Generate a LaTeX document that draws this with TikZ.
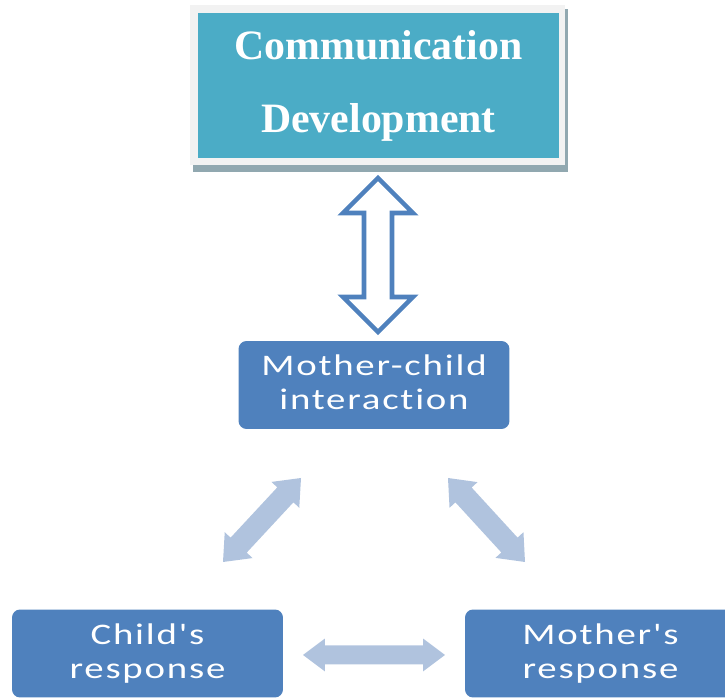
\documentclass[tikz,border=0pt]{standalone}
\usepackage{fontspec}
\usetikzlibrary{calc}

\newfontfamily\titlefont{Liberation Serif}
\newfontfamily\boxfont[LetterSpace=6,FakeStretch=1.3,Ligatures=NoCommon]{Carlito}

\definecolor{tealbox}{RGB}{75,172,198}
\definecolor{bluebox}{RGB}{79,129,189}
\definecolor{lightarrow}{RGB}{176,195,222}
\definecolor{framegray}{RGB}{242,242,242}
\definecolor{shadowgray}{RGB}{145,168,176}

\tikzset{
	stagebox/.style={rectangle,rounded corners=0.16cm,fill=bluebox,text=white,
		align=center,text depth=0.1cm,minimum width=5.42cm,minimum height=1.76cm,
		font=\boxfont\fontsize{17}{19.5}\selectfont},
	titlebox/.style={rectangle,fill=tealbox,text=white,align=center,
		minimum width=7.22cm,minimum height=2.9cm,
		font=\titlefont\bfseries\fontsize{23.8}{41.4}\selectfont},
	hollow/.style={draw=bluebox,fill=white,line width=2.6pt,line join=miter},
	soft/.style={fill=lightarrow}
}

% block arrow with two heads: style, from, to, half shaft, half head, head length
\newcommand{\dblarrow}[6]{%
	\coordinate (ba-a) at ($(#2)!#6!(#3)$);
	\coordinate (ba-b) at ($(#3)!#6!(#2)$);
	\path[#1] (#2) -- ($(ba-a)!#5!90:(#3)$) -- ($(ba-a)!#4!90:(#3)$)
		-- ($(ba-b)!#4!-90:(#2)$) -- ($(ba-b)!#5!-90:(#2)$) -- (#3)
		-- ($(ba-b)!#5!90:(#2)$) -- ($(ba-b)!#4!90:(#2)$)
		-- ($(ba-a)!#4!-90:(#3)$) -- ($(ba-a)!#5!-90:(#3)$) -- cycle;
}

\begin{document}
\begin{tikzpicture}[x=0.02cm,y=-0.02cm]
	\useasboundingbox (0,0) rectangle (725,699);
	\clip (0,0) rectangle (725,699);

	% title box with frame and shadow
	\fill[shadowgray] (193,9) rectangle (568,172);
	\fill[framegray] (190,5) rectangle (565,165);
	\node[titlebox,text depth=0.15cm] (comm) at (378.5,85.5) {Communication\\Development};

	\begin{scope}[every node/.style={stagebox}]
		\node (mci) at (374,385) {Mother-child\\interaction};
		\node (child) at (147.5,653.5) {Child's\\response};
		\node (mother) at (600.5,653.5) {Mother's\\response};
	\end{scope}

	% arrow ends
	\coordinate (comm-end) at (378,178);
	\coordinate (mci-end) at (378,332);
	\coordinate (ci-a) at (223,562);
	\coordinate (ci-b) at (301,478);
	\coordinate (mi-a) at (448,478);
	\coordinate (mi-b) at (525,562);
	\coordinate (cm-a) at (303,655);
	\coordinate (cm-b) at (445,655);

	\dblarrow{hollow}{comm-end}{mci-end}{0.28cm}{0.7cm}{0.7cm}
	\dblarrow{soft}{ci-a}{ci-b}{0.22cm}{0.38cm}{0.46cm}
	\dblarrow{soft}{mi-a}{mi-b}{0.22cm}{0.38cm}{0.46cm}
	\dblarrow{soft}{cm-a}{cm-b}{0.19cm}{0.33cm}{0.44cm}
\end{tikzpicture}
\end{document}
